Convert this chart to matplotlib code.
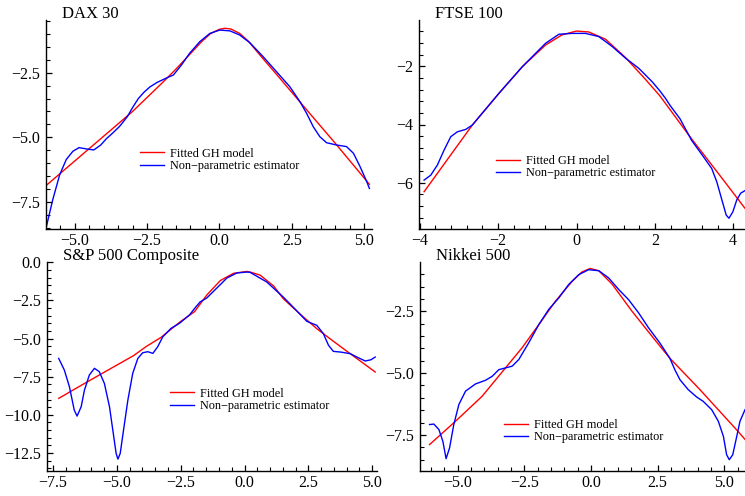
import matplotlib
matplotlib.use("Agg")
import matplotlib.pyplot as plt
from matplotlib.ticker import MultipleLocator, AutoMinorLocator

plt.rcParams['font.family'] = ['Liberation Serif', 'DejaVu Serif']

titles = ["DAX 30", "FTSE 100", "S&P 500 Composite", "Nikkei 500"]
legend_labels = ["Fitted GH model", "Non\u2212parametric estimator"]

# DAX 30
dax_gh_x = [-6.0, -5.0, -4.0, -3.0, -2.0, -1.5, -1.0, -0.6, -0.3, 0.0, 0.2, 0.4, 0.7, 1.0, 1.5, 2.0, 3.0, 4.0, 5.18]
dax_gh_y = [-6.88, -5.92, -4.96, -4.00, -2.92, -2.36, -1.76, -1.28, -0.98, -0.82, -0.78, -0.81, -0.98, -1.28, -1.95, -2.60, -3.92, -5.23, -6.82]
dax_np_x = [-5.99, -5.76, -5.52, -5.29, -5.06, -4.85, -4.60, -4.34, -4.10, -3.90, -3.70, -3.45, -3.18, -3.00, -2.80,
            -2.60, -2.40, -2.16, -1.82, -1.59, -1.31, -1.03, -0.68, -0.33, 0.01, 0.36, 0.70, 1.05, 1.51, 1.97,
            2.43, 2.78, 3.01, 3.24, 3.47, 3.70, 4.05, 4.39, 4.63, 4.86, 5.09, 5.18]
dax_np_y = [-8.52, -7.43, -6.46, -5.86, -5.54, -5.40, -5.45, -5.49, -5.30, -5.05, -4.85, -4.58, -4.20, -3.85, -3.50,
            -3.25, -3.05, -2.88, -2.70, -2.59, -2.20, -1.75, -1.30, -0.98, -0.85, -0.88, -1.04, -1.34, -1.88, -2.46,
            -3.04, -3.62, -4.07, -4.59, -4.98, -5.21, -5.30, -5.36, -5.62, -6.14, -6.72, -6.98]

# FTSE 100
ftse_gh_x = [-3.89, -2.66, -1.98, -1.38, -0.79, -0.37, 0.0, 0.31, 0.74, 1.25, 1.76, 2.13, 2.94, 3.63, 4.30]
ftse_gh_y = [-6.31, -4.02, -2.93, -2.01, -1.27, -0.92, -0.79, -0.82, -1.07, -1.70, -2.45, -3.02, -4.50, -5.70, -6.88]
ftse_np_x = [-3.89, -3.72, -3.55, -3.38, -3.21, -3.04, -2.83, -2.66, -1.98, -1.38, -0.79, -0.45, -0.11, 0.23, 0.57,
             0.91, 1.25, 1.59, 1.93, 2.13, 2.27, 2.39, 2.64, 2.94, 3.24, 3.45, 3.58, 3.71, 3.82, 3.89, 3.99, 4.09,
             4.19, 4.30]
ftse_np_y = [-5.91, -5.74, -5.39, -4.88, -4.42, -4.25, -4.17, -4.02, -2.93, -2.01, -1.21, -0.90, -0.87, -0.87, -0.98,
             -1.32, -1.72, -2.07, -2.53, -2.85, -3.10, -3.35, -3.80, -4.55, -5.11, -5.51, -5.97, -6.59, -7.11, -7.22,
             -7.00, -6.59, -6.36, -6.27]

# S&P 500 Composite
sp_gh_x = [-7.28, -6.31, -5.69, -4.35, -3.86, -3.27, -2.52, -1.96, -1.48, -0.95, -0.43, 0.09, 0.22, 0.61, 1.14, 1.52,
           2.18, 2.83, 3.50, 4.14, 5.12]
sp_gh_y = [-8.92, -7.98, -7.39, -6.12, -5.53, -4.92, -3.90, -3.24, -2.15, -1.20, -0.72, -0.60, -0.64, -0.84, -1.55, -2.39,
           -3.40, -4.35, -5.20, -5.99, -7.19]
sp_np_x = [-7.28, -7.06, -6.86, -6.67, -6.56, -6.40, -6.27, -6.08, -5.88, -5.69, -5.49, -5.29, -5.16, -5.03, -4.96,
           -4.87, -4.74, -4.57, -4.38, -4.18, -3.99, -3.79, -3.59, -3.40, -3.20, -2.88, -2.55, -2.16, -1.90, -1.74,
           -1.48, -1.08, -0.69, -0.30, 0.09, 0.22, 0.87, 1.52, 2.00, 2.44, 2.83, 3.09, 3.29, 3.48, 3.75,
           4.14, 4.40, 4.73, 4.95, 5.12]
sp_np_y = [-6.30, -7.06, -8.16, -9.69, -10.08, -9.47, -8.37, -7.39, -6.95, -7.17, -7.94, -9.47, -11.00, -12.53, -12.90,
           -12.53, -11.00, -9.03, -7.28, -6.30, -5.93, -5.86, -5.97, -5.53, -4.88, -4.33, -4.00, -3.46, -2.91, -2.60,
           -2.34, -1.68, -1.03, -0.70, -0.64, -0.66, -1.29, -2.28, -3.10, -3.87, -4.13, -4.68, -5.44, -5.84, -5.88,
           -5.99, -6.21, -6.47, -6.39, -6.21]

# Nikkei 500
nk_gh_x = [-6.06, -5.09, -4.09, -3.21, -2.59, -1.96, -1.34, -0.71, -0.34, -0.03, 0.29, 0.79, 1.54, 2.40, 2.96,
           4.09, 5.53, 5.78]
nk_gh_y = [-7.89, -6.95, -5.94, -4.79, -3.98, -3.04, -2.10, -1.29, -0.91, -0.77, -0.86, -1.40, -2.50, -3.66, -4.40,
           -5.67, -7.37, -7.68]
nk_np_x = [-6.06, -5.90, -5.71, -5.56, -5.44, -5.31, -5.15, -4.96, -4.71, -4.34, -3.96, -3.71, -3.46, -3.21, -2.96,
           -2.71, -2.34, -1.96, -1.59, -1.21, -0.84, -0.46, -0.09, 0.29, 0.66, 1.04, 1.41, 1.79, 2.16, 2.59,
           2.96, 3.15, 3.34, 3.65, 3.97, 4.21, 4.53, 4.78, 4.97, 5.09, 5.19, 5.32, 5.47, 5.59, 5.78]
nk_np_y = [-7.08, -7.06, -7.28, -7.76, -8.46, -8.03, -7.08, -6.27, -5.73, -5.44, -5.29, -5.13, -4.86, -4.79, -4.72,
           -4.45, -3.78, -3.04, -2.43, -1.96, -1.42, -1.02, -0.82, -0.86, -1.15, -1.62, -2.03, -2.57, -3.17, -3.79,
           -4.40, -4.87, -5.27, -5.67, -5.97, -6.14, -6.48, -6.95, -7.56, -8.30, -8.50, -8.30, -7.56, -6.95, -6.48]

W, H = 745, 496
fig = plt.figure(figsize=(W / 100, H / 100), dpi=100)

panels = [
    dict(rect=(46, 20, 372, 229), xlim=(-5.99, 5.27), ylim=(-8.55, -0.46), xmaj=2.5, ymaj=2.5,
         gh=(dax_gh_x, dax_gh_y), np_=(dax_np_x, dax_np_y), leg=(0.288, 0.331)),
    dict(rect=(419, 20, 745, 229), xlim=(-4.02, 4.30), ylim=(-7.59, -0.41), xmaj=2, ymaj=2,
         gh=(ftse_gh_x, ftse_gh_y), np_=(ftse_np_x, ftse_np_y), leg=(0.236, 0.296)),
    dict(rect=(46.7, 262.3, 377, 471.3), xlim=(-7.75, 5.19), ylim=(-13.7, 0.0), xmaj=2.5, ymaj=2.5,
         gh=(sp_gh_x, sp_gh_y), np_=(sp_np_x, sp_np_y), leg=(0.373, 0.342)),
    dict(rect=(419.7, 262.3, 745, 471.3), xlim=(-6.43, 5.78), ylim=(-8.97, -0.52), xmaj=2.5, ymaj=2.5,
         gh=(nk_gh_x, nk_gh_y), np_=(nk_np_x, nk_np_y), leg=(0.258, 0.193)),
]

for title, p in zip(titles, panels):
    l, t, r, b = p['rect']
    ax = fig.add_axes([l / W, 1 - b / H, (r - l) / W, (b - t) / H])
    ax.plot(*p['gh'], color='#ff0000', lw=1.0, label=legend_labels[0])
    ax.plot(*p['np_'], color='#0000ff', lw=1.0, label=legend_labels[1])
    ax.set_xlim(*p['xlim'])
    ax.set_ylim(*p['ylim'])
    ax.xaxis.set_major_locator(MultipleLocator(p['xmaj']))
    ax.yaxis.set_major_locator(MultipleLocator(p['ymaj']))
    ax.xaxis.set_minor_locator(AutoMinorLocator(5))
    ax.yaxis.set_minor_locator(AutoMinorLocator(5))
    for s in ('top', 'right'):
        ax.spines[s].set_visible(False)
    for s in ('left', 'bottom'):
        ax.spines[s].set_linewidth(1.0)
    ax.tick_params(which='major', direction='in', length=4.5, width=0.9, labelsize=11.5, pad=4)
    ax.tick_params(which='minor', direction='in', length=2.8, width=0.8)
    ax.tick_params(axis='x', which='major', pad=3)
    ax.legend(loc='center left', bbox_to_anchor=p['leg'], frameon=False, fontsize=8.8,
              borderpad=0, borderaxespad=0, handlelength=2.0, handletextpad=0.45, labelspacing=0.02)
    fig.text((l + 16) / W, 1 - (t - 2) / H, title, fontsize=12, ha='left', va='baseline')

fig.savefig("out.png", dpi=100)
